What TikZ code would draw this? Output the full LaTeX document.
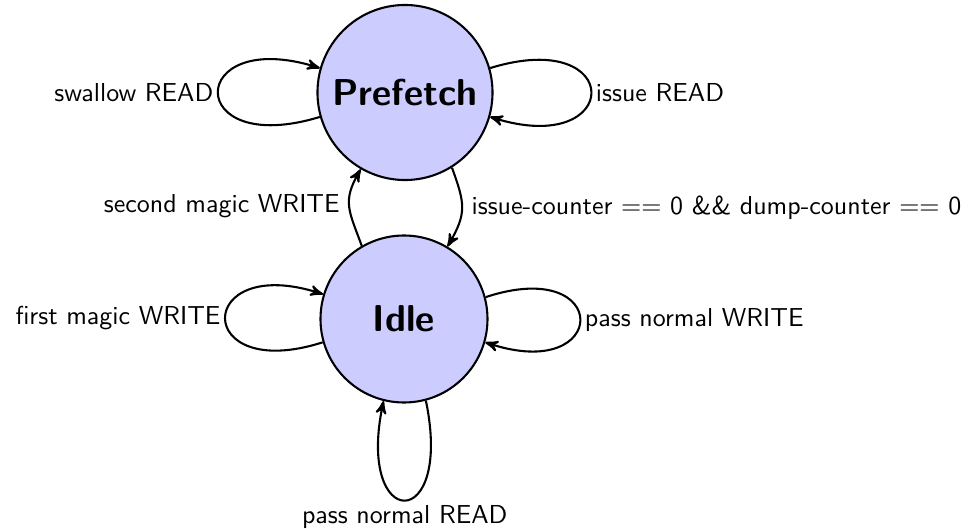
\documentclass[tikz,border=0pt]{standalone}
\usetikzlibrary{arrows}
\begin{document}
\begin{tikzpicture}[x=0.385pt,y=0.385pt,
  >=stealth',
  every node/.style={font=\sffamily},
  state/.style={circle,draw,thick,fill=blue!20,inner sep=0pt,font=\sffamily\Large\bfseries},
  trans/.style={->,thick},
  looplabel/.style={inner sep=1.5pt}]
\useasboundingbox (0,0) rectangle (972,528);

% states
\node[state,minimum size=67.4pt] (P) at (405,435.5) {Prefetch};
\node[state,minimum size=64.3pt] (I) at (404,209) {Idle};

% self loops on Prefetch
\draw[trans] (P.196) .. controls +(-137,-42) and +(-134,42) .. (P.164)
  node[pos=0.5,left,looplabel] (lswallow) {swallow READ};
\draw[trans] (P.16) .. controls +(136,42) and +(133,-42) .. (P.-16)
  node[pos=0.5,right,looplabel] (lissue) {issue READ};

% transitions between the two states
\draw[trans] (I.120) to[out=110,in=240,looseness=1.25]
  node[midway,left] (lsecond) {second magic WRITE} (P.240);
\draw[trans] (P.302) to[out=-70,in=60,looseness=1.25]
  node[midway,right] (lcounter) {issue-counter $==$ 0 \&\& dump-counter $==$ 0} (I.59);

% self loops on Idle
\draw[trans] (I.196) .. controls +(-131,-42) and +(-129,42) .. (I.163)
  node[pos=0.5,left,looplabel] (lfirst) {first magic WRITE};
\draw[trans] (I.15) .. controls +(127,42) and +(125,-42) .. (I.-16)
  node[pos=0.5,right,looplabel] (lwrite) {pass normal WRITE};
\draw[trans] (I.-75) .. controls +(28,-134) and +(-28,-131) .. (I.256)
  node[pos=0.5,below,looplabel] (lread) {pass normal READ};
\end{tikzpicture}
\end{document}
